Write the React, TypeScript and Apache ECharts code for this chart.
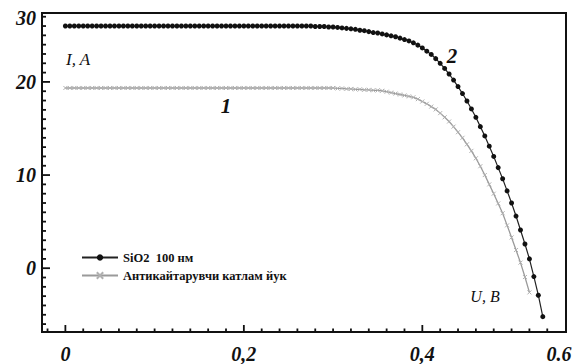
import React, { useEffect, useRef } from "react";
import * as echarts from "echarts";

// Voltage sampling step (V) of both measured curves
const VOLT_STEP = 0.005;

// Curve 2: SiO2 100 нм (I, A) from U = 0 V
const sio2Current = [
  26.0, 26.0, 26.0, 26.0, 26.0, 26.0, 26.0, 26.0, 26.0, 26.0,
  26.0, 26.0, 26.0, 26.0, 26.0, 26.0, 26.0, 26.0, 26.0, 26.0,
  26.0, 26.0, 26.0, 26.0, 26.0, 26.0, 26.0, 26.0, 26.0, 26.0,
  26.0, 26.0, 26.0, 26.0, 26.0, 26.0, 26.0, 26.0, 26.0, 26.0,
  26.0, 26.0, 26.0, 26.0, 26.0, 26.0, 26.0, 26.0, 26.0, 26.0,
  26.0, 26.0, 26.0, 26.0, 26.0, 26.0, 25.95, 25.95, 25.95, 25.9,
  25.9,
  25.85, 25.8, 25.75, 25.7, 25.65, 25.55, 25.5, 25.4, 25.3, 25.25,
  25.15, 25.05, 24.95, 24.85, 24.7, 24.55, 24.4, 24.2, 23.95, 23.65,
  23.3, 22.95, 22.5, 22.0, 21.45, 20.85, 20.2, 19.5, 18.75, 17.95,
  17.1, 16.2, 15.2, 14.2, 13.1, 12.0, 10.8, 9.6, 8.3, 7.0,
  5.6, 4.1, 2.6, 1.0, -0.9, -2.9, -5.2,
];

// Curve 1: Антикайтарувчи катлам йук (I, A) from U = 0 V
const bareCurrent = [
  19.35, 19.35, 19.35, 19.35, 19.35, 19.35, 19.35, 19.35, 19.35, 19.35,
  19.35, 19.35, 19.35, 19.35, 19.35, 19.35, 19.35, 19.35, 19.35, 19.35,
  19.35, 19.35, 19.35, 19.35, 19.35, 19.35, 19.35, 19.35, 19.35, 19.35,
  19.35, 19.35, 19.35, 19.35, 19.35, 19.35, 19.35, 19.35, 19.35, 19.35,
  19.35, 19.35, 19.35, 19.35, 19.35, 19.35, 19.35, 19.35, 19.35, 19.35,
  19.35, 19.35, 19.35, 19.35, 19.35, 19.35, 19.35, 19.35, 19.35, 19.35,
  19.35,
  19.3, 19.3, 19.25, 19.25, 19.2, 19.2, 19.15, 19.15, 19.1, 19.1,
  19.05, 18.95, 18.85, 18.75, 18.65, 18.55, 18.45, 18.35, 18.15, 17.9,
  17.65, 17.35, 17.05, 16.65, 16.2, 15.75, 15.2, 14.6, 14.0, 13.3,
  12.6, 11.8, 10.95, 10.0, 9.0, 8.0, 6.95, 5.9, 4.6, 3.3,
  1.95, 0.6, -0.95, -2.6,
];

const seriesNames = ["SiO2  100 нм", "Антикайтарувчи катлам йук"];

// Axis extents and ticks
const xMin = -0.0262;
const xMax = 0.561;
const yMin = -6.85;
const yMax = 27.4;
const xMajorTicks = [0, 0.2, 0.4];
const xTickLabels = ["0", "0,2", "0,4"];
const xCornerLabel = "0.6";
const xMinorStep = 0.02;
const yMajorTicks = [0, 10, 20];
const yTickLabels = ["0", "10", "20"];
const yCornerLabel = "30";
const yMinorStep = 1;

const SERIF = "'Liberation Serif', 'DejaVu Serif', serif";

function stepValues(min: number, max: number, step: number): number[] {
  const out: number[] = [];
  const start = Math.ceil(min / step) * step;
  for (let v = start; v <= max + 1e-9; v += step) out.push(+v.toFixed(4));
  return out;
}

function toPairs(vals: number[]): number[][] {
  return vals.map((v, i) => [+(i * VOLT_STEP).toFixed(3), v]);
}

// Inward tick marks: [x, y, direction(0 = x-axis, 1 = y-axis), length]
function buildTicks(): number[][] {
  const out: number[][] = [];
  stepValues(xMin, xMax, xMinorStep).forEach((v) => {
    const major = xMajorTicks.some((t) => Math.abs(t - v) < 1e-6);
    if (!major && v < xMax - 0.005) out.push([v, yMin, 0, 3.5]);
  });
  xMajorTicks.forEach((v) => out.push([v, yMin, 0, 7]));
  stepValues(yMin, yMax, yMinorStep).forEach((v) => {
    const major = yMajorTicks.some((t) => Math.abs(t - v) < 1e-6);
    if (!major && v < yMax - 0.3) out.push([xMin, v, 1, 4]);
  });
  yMajorTicks.forEach((v) => out.push([xMin, v, 1, 8]));
  return out;
}

export default function App() {
  const ref = useRef<HTMLDivElement>(null);
  useEffect(() => {
    document.body.style.margin = "0";
    if (!ref.current) return;
    const chart = echarts.init(ref.current, undefined, { renderer: "svg" });
    const axisColor = "#111";
    const labelFont = {
      fontFamily: SERIF,
      fontStyle: "italic" as const,
      fontWeight: "bold" as const,
      fontSize: 20,
      color: "#111",
    };
    chart.setOption({
      animation: false,
      backgroundColor: "#fff",
      grid: {
        left: 42,
        right: 7,
        top: 13,
        bottom: 32,
        show: true,
        borderColor: axisColor,
        borderWidth: 2,
        containLabel: false,
      },
      legend: {
        data: seriesNames,
        orient: "vertical",
        left: 76,
        top: 246,
        itemWidth: 36,
        itemHeight: 8,
        itemGap: 5,
        textStyle: {
          fontFamily: SERIF,
          fontWeight: "bold",
          fontSize: 12.5,
          color: "#111",
        },
      },
      xAxis: {
        type: "value",
        min: xMin,
        max: xMax,
        position: "bottom",
        splitLine: { show: false },
        axisLine: { show: true, onZero: false, lineStyle: { color: axisColor, width: 2 } },
        axisTick: { show: false },
        axisLabel: {
          show: true,
          customValues: xMajorTicks,
          margin: 12,
          formatter: (v: number) => {
            const i = xMajorTicks.findIndex((t) => Math.abs(t - v) < 1e-6);
            return i >= 0 ? xTickLabels[i] : "";
          },
          ...labelFont,
        },
      },
      yAxis: {
        type: "value",
        min: yMin,
        max: yMax,
        position: "left",
        splitLine: { show: false },
        axisLine: { show: true, onZero: false, lineStyle: { color: axisColor, width: 2 } },
        axisTick: { show: false },
        axisLabel: {
          show: true,
          customValues: yMajorTicks,
          margin: 6,
          formatter: (v: number) => {
            const i = yMajorTicks.findIndex((t) => Math.abs(t - v) < 1e-6);
            return i >= 0 ? yTickLabels[i] : "";
          },
          ...labelFont,
        },
      },
      series: [
        {
          name: "ticks",
          type: "custom",
          silent: true,
          clip: false,
          data: buildTicks(),
          encode: { x: 0, y: 1 },
          renderItem: (_params: any, api: any) => {
            const p = api.coord([api.value(0), api.value(1)]);
            const dir = api.value(2);
            const len = api.value(3);
            const shape =
              dir === 0
                ? { x1: p[0], y1: p[1], x2: p[0], y2: p[1] - len }
                : { x1: p[0], y1: p[1], x2: p[0] + len, y2: p[1] };
            return {
              type: "line",
              shape,
              style: { stroke: axisColor, lineWidth: 1.8 },
            };
          },
          z: 5,
        },
        {
          name: seriesNames[0],
          type: "line",
          data: toPairs(sio2Current),
          symbol: "circle",
          symbolSize: 5,
          showAllSymbol: true,
          lineStyle: { color: "#222", width: 1.2 },
          itemStyle: { color: "#111" },
          z: 3,
        },
        {
          name: seriesNames[1],
          type: "line",
          data: toPairs(bareCurrent),
          symbol: "path://M0,0L10,10M10,0L0,10",
          symbolSize: 4,
          showAllSymbol: true,
          lineStyle: { color: "#9a9a9a", width: 1.3 },
          itemStyle: { color: "#b0b0b0", borderColor: "#b0b0b0", borderWidth: 1 },
          z: 2,
        },
      ],
      graphic: [
        {
          type: "text",
          x: 36,
          y: 18,
          style: {
            text: yCornerLabel,
            align: "right",
            verticalAlign: "middle",
            font: `italic bold 20px ${SERIF}`,
            fill: "#111",
          },
        },
        {
          type: "text",
          x: 559,
          y: 354,
          style: {
            text: xCornerLabel,
            align: "center",
            verticalAlign: "middle",
            font: `italic bold 20px ${SERIF}`,
            fill: "#111",
          },
        },
        {
          type: "text",
          x: 66,
          y: 59,
          style: {
            text: "I, A",
            align: "left",
            verticalAlign: "middle",
            font: `italic 17px ${SERIF}`,
            fill: "#111",
          },
        },
        {
          type: "text",
          x: 485,
          y: 296,
          style: {
            text: "U, B",
            align: "center",
            verticalAlign: "middle",
            font: `italic 16px ${SERIF}`,
            fill: "#111",
          },
        },
        {
          type: "text",
          x: 226,
          y: 106,
          style: {
            text: "1",
            align: "center",
            verticalAlign: "middle",
            font: `italic bold 21px ${SERIF}`,
            fill: "#111",
          },
        },
        {
          type: "text",
          x: 452,
          y: 56,
          style: {
            text: "2",
            align: "center",
            verticalAlign: "middle",
            font: `italic bold 21px ${SERIF}`,
            fill: "#111",
          },
        },
      ],
    });
    return () => chart.dispose();
  }, []);
  return <div ref={ref} style={{ width: 573, height: 364 }} />;
}
